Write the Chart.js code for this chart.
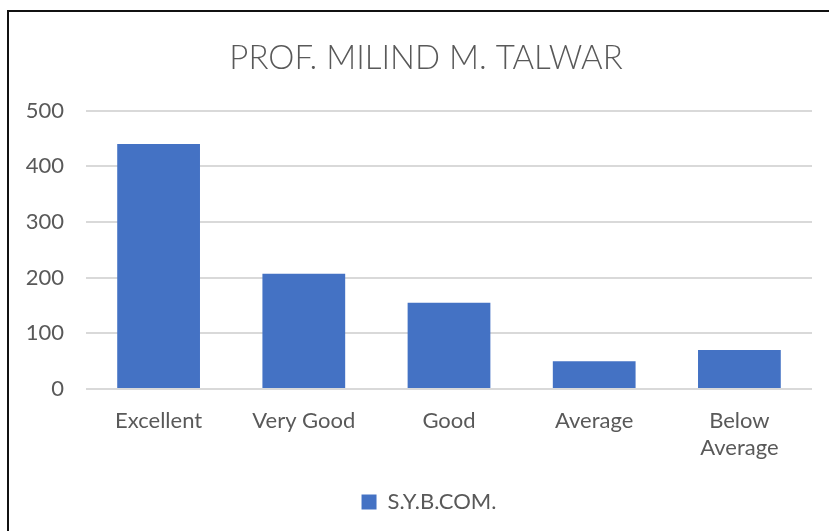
<!DOCTYPE html>
<html>
<head>
<meta charset="utf-8">
<script src="https://cdn.jsdelivr.net/npm/chart.js@4.4.0/dist/chart.umd.min.js"></script>
<style>
  html, body { margin: 0; padding: 0; background: #fff; }
  #wrap { position: relative; width: 829px; height: 531px; overflow: hidden; }
  #frame { position: absolute; left: 7px; top: 10px; width: 900px; height: 600px; border: 2px solid #111; pointer-events: none; }
  canvas { position: absolute; left: 0; top: 0; }
</style>
</head>
<body>
<div id="wrap">
  <canvas id="myChart" width="829" height="531"></canvas>
  <div id="frame"></div>
</div>
<script>
const categories = ["Excellent", "Very Good", "Good", "Average", "Below Average"];
const seriesName = "S.Y.B.COM.";
const seriesValues = [440, 207, 155, 50, 70];
const yTicks = [0, 100, 200, 300, 400, 500];

const textColor = "#595959";
const fontFamily = "Lato, 'Open Sans', sans-serif";

// nudge title and legend to the right, as in the original
const shiftBoxes = {
	id: "shiftBoxes",
	afterLayout(chart) {
		const lg = chart.legend;
		if (lg) { lg.left += 23; lg.right += 23; }
		const tt = chart.titleBlock;
		if (tt) { tt.left += 20; tt.right += 20; }
	}
};

const ctx = document.getElementById("myChart").getContext("2d");

new Chart(ctx, {
	type: "bar",
	data: {
		labels: categories,
		datasets: [{
			label: seriesName,
			data: seriesValues,
			backgroundColor: "#4472C4",
			borderWidth: 0,
			categoryPercentage: 1,
			barPercentage: 0.57
		}]
	},
	options: {
		responsive: false,
		animation: false,
		layout: { padding: { left: 0, right: 17, top: 39, bottom: 8 } },
		plugins: {
			title: {
				display: true,
				text: "PROF. MILIND M. TALWAR",
				color: textColor,
				font: { family: fontFamily, size: 33, weight: "300" },
				padding: { top: 0, bottom: 32 }
			},
			legend: {
				position: "bottom",
				labels: {
					color: textColor,
					font: { family: fontFamily, size: 22 },
					boxWidth: 15,
					boxHeight: 15,
					padding: 6
				}
			},
			tooltip: { enabled: false }
		},
		scales: {
			x: {
				grid: { display: false },
				border: { display: false },
				ticks: {
					color: textColor,
					font: { family: fontFamily, size: 22, lineHeight: 1.25 },
					maxRotation: 0,
					padding: 10,
					callback: function (v) {
						const l = this.getLabelForValue(v);
						return l.length > 10 ? l.split(" ") : l;
					}
				},
				afterFit: function (scale) { scale.height = 96; }
			},
			y: {
				min: 0,
				max: 500,
				afterBuildTicks: function (scale) {
					scale.ticks = yTicks.map(v => ({ value: v }));
				},
				grid: { color: "#D9D9D9", lineWidth: 2, drawTicks: false },
				border: { display: false },
				ticks: {
					color: textColor,
					font: { family: fontFamily, size: 22 },
					padding: 22
				},
				afterFit: function (scale) { scale.width = 86; }
			}
		}
	},
	plugins: [shiftBoxes]
});
</script>
</body>
</html>
